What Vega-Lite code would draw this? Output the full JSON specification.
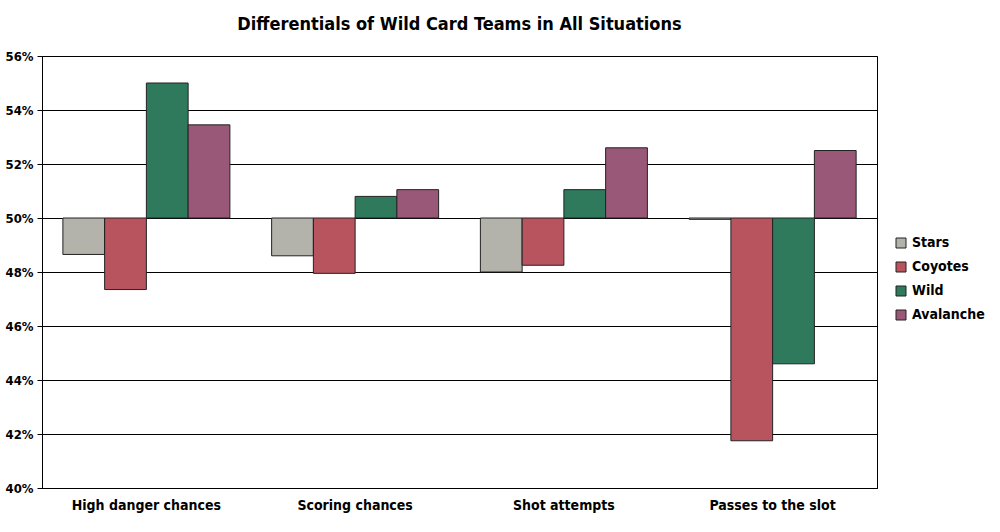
{
  "$schema": "https://vega.github.io/schema/vega-lite/v6.json",
  "width": 835,
  "height": 432,
  "padding": {"left": 5, "top": 16, "right": 5, "bottom": 5},
  "title": {"text": "Differentials of Wild Card Teams in All Situations", "fontSize": 18, "font": "DejaVu Sans Condensed", "fontWeight": "bold", "color": "#000", "offset": 16},
  "data": {"values": [
    {"metric": "High danger chances", "team": "Stars", "value": 48.65},
    {"metric": "High danger chances", "team": "Coyotes", "value": 47.35},
    {"metric": "High danger chances", "team": "Wild", "value": 55.0},
    {"metric": "High danger chances", "team": "Avalanche", "value": 53.45},
    {"metric": "Scoring chances", "team": "Stars", "value": 48.6},
    {"metric": "Scoring chances", "team": "Coyotes", "value": 47.95},
    {"metric": "Scoring chances", "team": "Wild", "value": 50.8},
    {"metric": "Scoring chances", "team": "Avalanche", "value": 51.05},
    {"metric": "Shot attempts", "team": "Stars", "value": 48.0},
    {"metric": "Shot attempts", "team": "Coyotes", "value": 48.25},
    {"metric": "Shot attempts", "team": "Wild", "value": 51.05},
    {"metric": "Shot attempts", "team": "Avalanche", "value": 52.6},
    {"metric": "Passes to the slot", "team": "Stars", "value": 49.95},
    {"metric": "Passes to the slot", "team": "Coyotes", "value": 41.75},
    {"metric": "Passes to the slot", "team": "Wild", "value": 44.6},
    {"metric": "Passes to the slot", "team": "Avalanche", "value": 52.5}
  ]},
  "mark": {"type": "bar", "stroke": "#222", "strokeWidth": 1, "opacity": 1},
  "encoding": {
    "x": {"field": "metric", "type": "nominal", "sort": null, "title": null,
      "scale": {"paddingInner": 0.2, "paddingOuter": 0.1},
      "axis": {"labelAngle": 0, "labelFontSize": 14, "labelFont": "DejaVu Sans Condensed", "labelFontWeight": "bold", "labelColor": "#000", "ticks": false, "domainColor": "#000", "labelPadding": 10}},
    "xOffset": {"field": "team", "type": "nominal", "sort": ["Stars", "Coyotes", "Wild", "Avalanche"]},
    "y": {"field": "value", "type": "quantitative", "title": null,
      "scale": {"domain": [40, 56], "nice": false},
      "axis": {"values": [40, 42, 44, 46, 48, 50, 52, 54, 56], "labelExpr": "datum.value + '%'", "labelFontSize": 13, "labelFont": "DejaVu Sans Condensed", "labelFontWeight": "bold", "labelColor": "#000", "gridColor": "#000", "gridWidth": 1, "domainColor": "#000", "tickColor": "#000", "labelPadding": 4}},
    "y2": {"datum": 50},
    "color": {"field": "team", "type": "nominal", "sort": ["Stars", "Coyotes", "Wild", "Avalanche"],
      "scale": {"domain": ["Stars", "Coyotes", "Wild", "Avalanche"], "range": ["#b3b3ab", "#b8545e", "#2f7a5c", "#9a5878"]},
      "legend": {"title": null, "orient": "none", "legendX": 852, "legendY": 180, "labelFontSize": 14, "labelFont": "DejaVu Sans Condensed", "labelFontWeight": "bold", "labelColor": "#000", "symbolType": "square", "symbolStrokeColor": "#222", "symbolStrokeWidth": 1, "rowPadding": 10}}
  },
  "config": {"view": {"stroke": "#000"}, "background": "#fff"}
}
